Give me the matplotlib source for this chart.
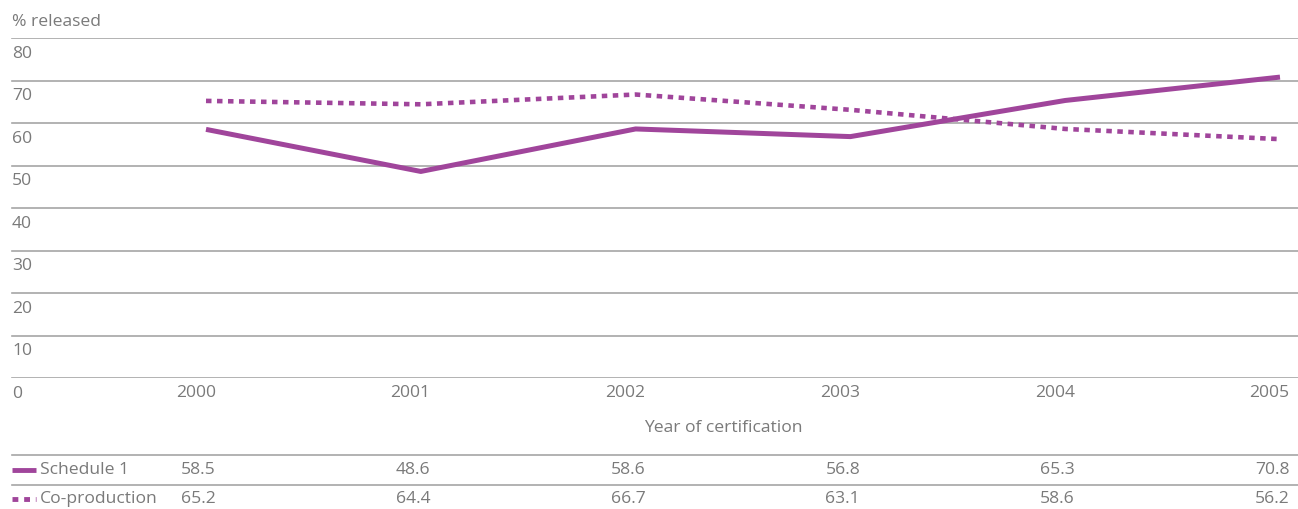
import matplotlib
matplotlib.use('Agg')
import matplotlib.pyplot as plt
from matplotlib.transforms import blended_transform_factory, offset_copy

# ---------- data ----------
years = [2000, 2001, 2002, 2003, 2004, 2005]
schedule1 = [58.5, 48.6, 58.6, 56.8, 65.3, 70.8]
coproduction = [65.2, 64.4, 66.7, 63.1, 58.6, 56.2]
y_ticks = [0, 10, 20, 30, 40, 50, 60, 70, 80]

PURPLE = '#a0459b'
GRID = '#a6a6a6'
TEXT = '#7a7a7a'
FS = 12.6
W, H = 1298, 509

plt.rcParams['font.family'] = ['Open Sans', 'DejaVu Sans']

fig = plt.figure(figsize=(W / 100, H / 100), dpi=100)

# axes: 80 at y=38px, 0 at y=378px; 2000 at x=206px, 2005 at x=1280px
ax = fig.add_axes([0, (H - 378) / H, 1, 340 / H])
px_per_year = (1280 - 206) / 5
ax.set_xlim(2000 - 206 / px_per_year, 2005 + (W - 1280) / px_per_year)
ax.set_ylim(0, 80)
ax.axis('off')


def fy(y_px):
    return 1 - y_px / H


x0 = 12 / W

# gridlines + y labels (label sits below its line)
for v in y_ticks:
    ax.axhline(v, xmin=x0, xmax=1, color=GRID, lw=1.2, zorder=1)
    ax.annotate(str(v), xy=(x0, v), xycoords=('axes fraction', 'data'),
                xytext=(0, -5.5), textcoords='offset points',
                ha='left', va='top', fontsize=FS, color=TEXT)

fig.text(x0, fy(22), '% released', ha='left', va='center', fontsize=FS, color=TEXT)

# lines
ax.plot(years, schedule1, color=PURPLE, lw=3.6, solid_capstyle='butt', zorder=3, clip_on=False)
ax.plot(years, coproduction, color=PURPLE, lw=3.3, linestyle=(0, (1.2, 1.2)), zorder=3, clip_on=False)

# year labels, right-aligned just to the right of each point
tr = offset_copy(blended_transform_factory(ax.transData, fig.transFigure), fig=fig, x=7, units='points')
for yr in years:
    ax.text(yr, fy(393), str(yr), transform=tr, ha='right', va='center', fontsize=FS, color=TEXT)

fig.text(723 / W, fy(428), 'Year of certification', ha='center', va='center', fontsize=FS, color=TEXT)

# data table
for y_px in (455, 485):
    fig.add_artist(plt.Line2D([x0, 1], [fy(y_px), fy(y_px)], transform=fig.transFigure,
                              color=GRID, lw=1.2))

rows = [('Schedule 1', schedule1, '-', 470), ('Co-production', coproduction, (0, (1.2, 1.2)), 499)]
for name, vals, ls, y_px in rows:
    fig.add_artist(plt.Line2D([12 / W, 36 / W], [fy(y_px), fy(y_px)], transform=fig.transFigure,
                              color=PURPLE, lw=3.5, linestyle=ls, solid_capstyle='butt'))
    fig.text(40 / W, fy(y_px), name, ha='left', va='center', fontsize=FS, color=TEXT)
    for yr, v in zip(years, vals):
        ax.text(yr, fy(y_px), f'{v:.1f}', transform=tr, ha='right', va='center',
                fontsize=FS, color=TEXT)

fig.savefig('out.png', dpi=100)
